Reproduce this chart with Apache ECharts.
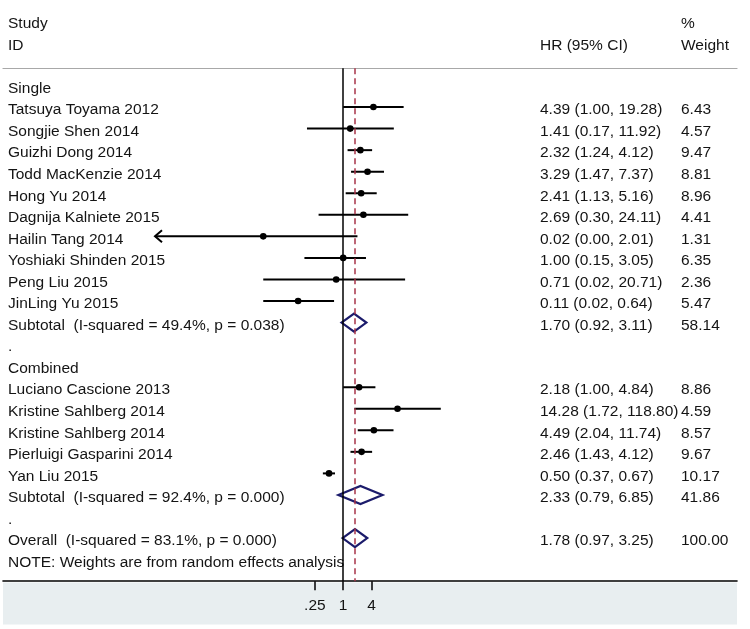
<!DOCTYPE html>
<html>
<head>
<meta charset="utf-8">
<script src="https://cdn.jsdelivr.net/npm/echarts@6/dist/echarts.min.js"></script>
<style>
html,body{margin:0;padding:0;background:#fff;}
#chart{width:750px;height:629px;}
</style>
</head>
<body>
<div id="chart"></div>
<script>
// ---------- DATA ----------
const headerRows = [-3, -2];
const headerLeft = ['Study', 'ID'];
const headerHR = ['', 'HR (95% CI)'];
const headerWeight = ['%', 'Weight'];

const rowLabels = [
  'Single',
  'Tatsuya Toyama 2012',
  'Songjie Shen 2014',
  'Guizhi Dong 2014',
  'Todd MacKenzie 2014',
  'Hong Yu 2014',
  'Dagnija Kalniete 2015',
  'Hailin Tang 2014',
  'Yoshiaki Shinden 2015',
  'Peng Liu 2015',
  'JinLing Yu 2015',
  'Subtotal  (I-squared = 49.4%, p = 0.038)',
  '.',
  'Combined',
  'Luciano Cascione 2013',
  'Kristine Sahlberg 2014',
  'Kristine Sahlberg 2014',
  'Pierluigi Gasparini 2014',
  'Yan Liu 2015',
  'Subtotal  (I-squared = 92.4%, p = 0.000)',
  '.',
  'Overall  (I-squared = 83.1%, p = 0.000)',
  'NOTE: Weights are from random effects analysis'
];

const studyRows = [1, 2, 3, 4, 5, 6, 7, 8, 9, 10, 14, 15, 16, 17, 18];
const studyHR   = [4.39, 1.41, 2.32, 3.29, 2.41, 2.69, 0.02, 1.00, 0.71, 0.11, 2.18, 14.28, 4.49, 2.46, 0.50];
const studyLo   = [1.00, 0.17, 1.24, 1.47, 1.13, 0.30, 0.00, 0.15, 0.02, 0.02, 1.00, 1.72, 2.04, 1.43, 0.37];
const studyHi   = [19.28, 11.92, 4.12, 7.37, 5.16, 24.11, 2.01, 3.05, 20.71, 0.64, 4.84, 118.80, 11.74, 4.12, 0.67];
const studyWeight = [6.43, 4.57, 9.47, 8.81, 8.96, 4.41, 1.31, 6.35, 2.36, 5.47, 8.86, 4.59, 8.57, 9.67, 10.17];

const pooledRows = [11, 19, 21];
const pooledHR   = [1.70, 2.33, 1.78];
const pooledLo   = [0.92, 0.79, 0.97];
const pooledHi   = [3.11, 6.85, 3.25];
const pooledWeight = [58.14, 41.86, 100.00];

const xTickValues = [0.25, 1, 4];
const xTickLabels = ['.25', '1', '4'];
const nullValue = 1;
const overallHR = pooledHR[2];

// ---------- LAYOUT / STYLE ----------
const FONT = 'Liberation Sans, Arial, sans-serif';
const FS = 15.5;
const TXT = '#141414';
const xMin = 0.0001, xMax = 120;
const yMin = -3, yMax = 23;
const lineTop = -0.8;
const TEXT_SHIFT = 0.14; // text baseline sits slightly lower than the marks

// text columns
const hrText = {}, wText = {};
headerRows.forEach((r, i) => { hrText[r] = headerHR[i]; wText[r] = headerWeight[i]; });
const f2 = v => v.toFixed(2);
studyRows.forEach((r, i) => {
  hrText[r] = f2(studyHR[i]) + ' (' + f2(studyLo[i]) + ', ' + f2(studyHi[i]) + ')';
  wText[r] = f2(studyWeight[i]);
});
pooledRows.forEach((r, i) => {
  hrText[r] = f2(pooledHR[i]) + ' (' + f2(pooledLo[i]) + ', ' + f2(pooledHi[i]) + ')';
  wText[r] = f2(pooledWeight[i]);
});
const leftText = {};
headerRows.forEach((r, i) => { leftText[r] = headerLeft[i]; });
rowLabels.forEach((t, i) => { leftText[i] = t; });
const allRows = headerRows.concat(rowLabels.map((t, i) => i));

const studyData = studyRows.map((r, i) => [studyHR[i], studyLo[i], studyHi[i], r]);
const pooledData = pooledRows.map((r, i) => [pooledHR[i], pooledLo[i], pooledHi[i], r]);

function renderStudy(params, api) {
  const cs = params.coordSys;
  const row = api.value(3);
  const lo = api.value(1), hi = api.value(2);
  const p = api.coord([api.value(0), row]);
  const y = p[1];
  const left = lo > xMin ? api.coord([lo, row])[0] : cs.x;
  const right = hi < xMax ? api.coord([hi, row])[0] : cs.x + cs.width;
  const children = [
    { type: 'line', shape: { x1: left, y1: y, x2: right, y2: y }, style: { stroke: '#000', lineWidth: 2 } }
  ];
  if (lo <= xMin) {
    children.push({ type: 'polyline', shape: { points: [[left + 7, y - 6], [left, y], [left + 7, y + 6]] },
      style: { stroke: '#000', lineWidth: 2, fill: null } });
  }
  if (hi >= xMax) {
    children.push({ type: 'polyline', shape: { points: [[right - 7, y - 6], [right, y], [right - 7, y + 6]] },
      style: { stroke: '#000', lineWidth: 2, fill: null } });
  }
  children.push({ type: 'circle', shape: { cx: p[0], cy: y, r: 3.3 }, style: { fill: '#000' } });
  return { type: 'group', children };
}

function renderDiamond(params, api) {
  const row = api.value(3);
  const h = 0.42;
  const pts = [
    api.coord([api.value(1), row]),
    api.coord([api.value(0), row - h]),
    api.coord([api.value(2), row]),
    api.coord([api.value(0), row + h])
  ];
  return { type: 'polygon', shape: { points: pts },
    style: { fill: 'rgba(0,0,0,0)', stroke: '#1b1b6b', lineWidth: 2.2, lineJoin: 'miter' } };
}

const gridTop = 20.85, gridBottomY = 581.15;
const plotLeft = 155, plotRight = 441;

const hiddenValueAxis = (extra) => Object.assign({
  type: 'value', show: true, min: 0, max: 1,
  axisLine: { show: false, onZero: false }, axisTick: { show: false }, axisLabel: { show: false }, splitLine: { show: false }
}, extra);

const yData = {
  type: 'value', min: yMin, max: yMax, interval: 1, inverse: true, gridIndex: 0, position: 'left',
  axisLine: { show: false, onZero: false }, axisTick: { show: false }, axisLabel: { show: false }, splitLine: { show: false }
};
const yText = (pos, margin, lookup) => ({
  type: 'value', min: yMin - TEXT_SHIFT, max: yMax - TEXT_SHIFT, inverse: true, gridIndex: 0, position: pos,
  axisLine: { show: false, onZero: false }, axisTick: { show: false }, splitLine: { show: false },
  axisLabel: { show: true, customValues: allRows, align: 'left', margin: margin,
    color: TXT, fontSize: FS, fontFamily: FONT,
    formatter: v => {
      const r = Math.round(v);
      return lookup[r] !== undefined ? lookup[r] : '';
    } }
});

const option = {
  animation: false,
  backgroundColor: '#fff',
  textStyle: { fontFamily: FONT },
  grid: [
    { left: plotLeft, width: plotRight - plotLeft, top: gridTop, height: gridBottomY - gridTop, containLabel: false },
    { left: 3, width: 734, top: 68, height: 513 },
    { left: 3, width: 734, top: 582.5, height: 42, show: true, backgroundColor: '#e8eef0', borderWidth: 0 }
  ],
  xAxis: [
    {
      type: 'log', logBase: 2, min: xMin, max: xMax, gridIndex: 0, position: 'bottom',
      axisLine: { show: false, onZero: false },
      splitLine: { show: false },
      minorTick: { show: false },
      axisTick: { show: true, customValues: xTickValues, length: 9, lineStyle: { color: '#000', width: 1.5 } },
      axisLabel: {
        show: true, customValues: xTickValues, margin: 17,
        color: TXT, fontSize: FS, fontFamily: FONT,
        formatter: v => {
          const i = xTickValues.findIndex(t => Math.abs(t - v) < 1e-9);
          return i >= 0 ? xTickLabels[i] : '';
        }
      }
    },
    hiddenValueAxis({ gridIndex: 1, position: 'top', axisLine: { show: true, onZero: false, lineStyle: { color: '#a8a8a8', width: 1.2 } } }),
    hiddenValueAxis({ gridIndex: 1, position: 'bottom', axisLine: { show: true, onZero: false, lineStyle: { color: '#000', width: 1.6 } } }),
    hiddenValueAxis({ gridIndex: 2 })
  ],
  yAxis: [
    yData,
    yText('left', plotLeft - 8, leftText),
    yText('right', 540 - plotRight, hrText),
    yText('right', 681 - plotRight, wText),
    hiddenValueAxis({ gridIndex: 1 }),
    hiddenValueAxis({ gridIndex: 2 })
  ],
  series: [
    {
      type: 'custom', name: 'reflines', xAxisIndex: 0, yAxisIndex: 0,
      renderItem: () => ({ type: 'group', children: [] }),
      data: [[nullValue, 0]],
      encode: { x: 0, y: 1 },
      silent: true, z: 1,
      markLine: {
        silent: true, symbol: 'none', label: { show: false }, animation: false,
        data: [
          [{ coord: [nullValue, lineTop], lineStyle: { color: '#000', width: 1.5, type: 'solid' } },
           { coord: [nullValue, yMax] }],
          [{ coord: [overallHR, lineTop], lineStyle: { color: '#a8354a', width: 1.5, type: [6, 4] } },
           { coord: [overallHR, yMax] }]
        ]
      }
    },
    {
      type: 'custom', name: 'studies', xAxisIndex: 0, yAxisIndex: 0,
      renderItem: renderStudy, data: studyData,
      encode: { x: [0, 1, 2], y: 3 }, clip: false, silent: true, z: 3
    },
    {
      type: 'custom', name: 'pooled', xAxisIndex: 0, yAxisIndex: 0,
      renderItem: renderDiamond, data: pooledData,
      encode: { x: [0, 1, 2], y: 3 }, clip: false, silent: true, z: 3
    }
  ]
};

const chart = echarts.init(document.getElementById('chart'), null, { renderer: 'canvas' });
chart.setOption(option);
</script>
</body>
</html>
